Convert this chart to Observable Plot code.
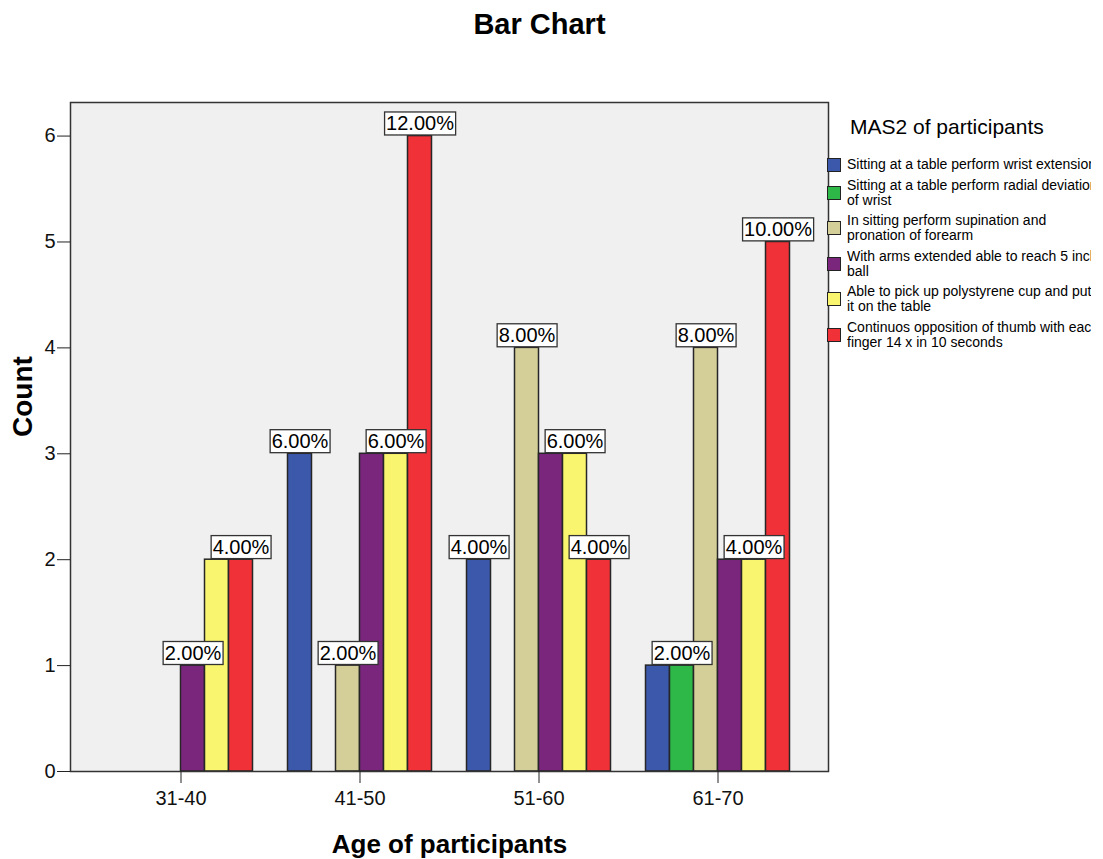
<!DOCTYPE html>
<html>
<head>
<meta charset="utf-8">
<script src="https://cdn.jsdelivr.net/npm/d3@7"></script>
<script src="https://cdn.jsdelivr.net/npm/@observablehq/plot@0.6"></script>
<style>
  body { margin: 0; background: #fff; font-family: Arial, "Liberation Sans", sans-serif; }
  #wrap { position: relative; width: 1103px; height: 859px; overflow: hidden; }
  #chart { position: absolute; left: 0; top: 0; }
  #title { position: absolute; left: 0; width: 1079px; top: 10px; text-align: center;
           font-weight: bold; font-size: 29px; line-height: 29px; color: #000; }
  #legend { position: absolute; left: 827px; top: 112px; width: 276px; color: #000; }
  #legend .ltitle { font-size: 21px; line-height: 30px; margin-left: 23px; margin-bottom: 15px; }
  #legend .item { display: flex; align-items: center; margin-bottom: 5.6px; }
  #legend .sw { width: 12px; height: 12px; border: 1px solid #222; flex: none; }
  #legend .lab { margin-left: 6px; width: 244px; overflow: hidden; white-space: pre;
                 font-size: 14px; line-height: 15px; }
</style>
</head>
<body>
<div id="wrap">
  <div id="chart"></div>
  <div id="title">Bar Chart</div>
  <div id="legend"></div>
</div>
<script>
// ---- data ----
const ages = ["31-40", "41-50", "51-60", "61-70"];
const seriesNames = [
  "Sitting at a table perform wrist extension",
  "Sitting at a table perform radial deviation\nof wrist",
  "In sitting perform supination and\npronation of forearm",
  "With arms extended able to reach 5 inch\nball",
  "Able to pick up polystyrene cup and put\nit on the table",
  "Continuos opposition of thumb with each\nfinger 14 x in 10 seconds"
];
const seriesColors = ["#3c58aa", "#2eb848", "#d4ce99", "#7b267d", "#faf56e", "#f03238"];
const wristExtension   = [0, 3, 2, 1];
const radialDeviation  = [0, 0, 0, 1];
const supination       = [0, 1, 4, 4];
const reachBall        = [1, 3, 3, 2];
const pickUpCup        = [2, 3, 3, 2];
const thumbOpposition  = [2, 6, 2, 5];
const yTicks = [0, 1, 2, 3, 4, 5, 6];

const countsBySeries = [wristExtension, radialDeviation, supination, reachBall, pickUpCup, thumbOpposition];
const total = d3.sum(countsBySeries.flat());

const rows = [];
countsBySeries.forEach((arr, si) => {
  arr.forEach((c, ai) => {
    const next = countsBySeries[si + 1];
    rows.push({
      age: ages[ai],
      series: seriesNames[si],
      si,
      count: c,
      pct: (c / total * 100).toFixed(2) + "%",
      show: c > 0 && (!next || next[ai] !== c)
    });
  });
});

const slot = 24;
const band = 179;
const inset = (band - slot) / 2;
const font = 'Arial, "Liberation Sans", sans-serif';

const marks = [
  Plot.frame({fill: "#f0f0f0"}),
  ...seriesNames.map((s, i) => Plot.barY(rows.filter(d => d.si === i && d.count > 0), {
    x: "age", y: "count", fill: "series",
    stroke: "#262626", strokeWidth: 1.5,
    insetLeft: inset, insetRight: inset, dx: (i - 2.5) * slot
  })),
  Plot.frame({stroke: "#333", strokeWidth: 1.5}),
  ...seriesNames.map((s, i) => Plot.text(rows.filter(d => d.si === i && d.show), {
    x: "age", y: "count", text: "pct",
    dx: (i - 2.5) * slot, dy: -12, lineAnchor: "middle",
    fontSize: 20, fill: "#000"
  })),
  Plot.axisX({tickSize: 12, tickPadding: 7, fontSize: 20, label: null, stroke: "#222"}),
  Plot.axisY({ticks: yTicks, tickFormat: "d", tickSize: 13, tickPadding: 2, fontSize: 20, label: null, stroke: "#222"}),
  Plot.text(["Age of participants"], {
    frameAnchor: "bottom", dy: 73, lineAnchor: "middle",
    fontSize: 26, fontWeight: "bold", fill: "#000"
  }),
  Plot.text(["Count"], {
    frameAnchor: "left", dx: -47, rotate: -90, lineAnchor: "middle",
    fontSize: 28, fontWeight: "bold", fill: "#000"
  })
];

const plot = Plot.plot({
  width: 1103,
  height: 859,
  marginTop: 102,
  marginBottom: 88,
  marginLeft: 70,
  marginRight: 275,
  style: {fontFamily: font, fontSize: "20px", color: "#111", background: "transparent"},
  x: {domain: ages, range: [90.5, 806.5], padding: 0, label: null, axis: null},
  y: {domain: [0, 6.317], label: null, axis: null},
  color: {domain: seriesNames, range: seriesColors},
  marks
});

document.getElementById("chart").appendChild(plot);

// white boxes behind the percentage labels
const svgNS = "http://www.w3.org/2000/svg";
Array.from(plot.querySelectorAll("text"))
  .filter(t => /%$/.test(t.textContent.trim()))
  .forEach(t => {
    const bb = t.getBBox();
    const r = document.createElementNS(svgNS, "rect");
    r.setAttribute("x", bb.x - 1.5);
    r.setAttribute("y", bb.y - 0.5);
    r.setAttribute("width", bb.width + 3);
    r.setAttribute("height", bb.height + 1);
    r.setAttribute("fill", "#fff");
    r.setAttribute("stroke", "#333");
    r.setAttribute("stroke-width", "1.3");
    const tr = t.getAttribute("transform");
    if (tr) r.setAttribute("transform", tr);
    t.parentNode.insertBefore(r, t);
  });

// legend
const legend = document.getElementById("legend");
const lt = document.createElement("div");
lt.className = "ltitle";
lt.textContent = "MAS2 of participants";
legend.appendChild(lt);
seriesNames.forEach((name, i) => {
  const item = document.createElement("div");
  item.className = "item";
  const sw = document.createElement("div");
  sw.className = "sw";
  sw.style.background = seriesColors[i];
  const lab = document.createElement("div");
  lab.className = "lab";
  lab.textContent = name;
  item.appendChild(sw);
  item.appendChild(lab);
  legend.appendChild(item);
});
</script>
</body>
</html>
